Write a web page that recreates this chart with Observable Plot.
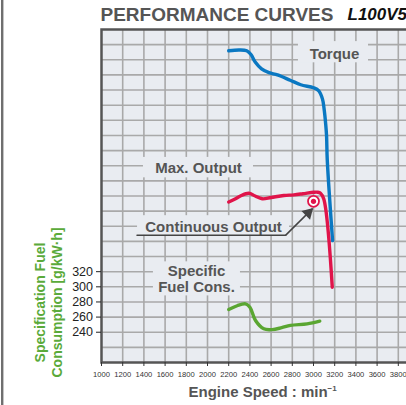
<!DOCTYPE html>
<html><head><meta charset="utf-8">
<script src="https://cdn.jsdelivr.net/npm/d3@7"></script>
<script src="https://cdn.jsdelivr.net/npm/@observablehq/plot@0.6"></script>
<style>
html,body{margin:0;padding:0;background:#fff;overflow:hidden;width:406px;height:405px;}
#wrap{position:relative;width:406px;height:405px;overflow:hidden;}
#edge{position:absolute;left:1px;top:0;width:2px;height:405px;background:#6f6f6f;}
#edge2{position:absolute;left:3px;top:0;width:1px;height:405px;background:#c4c4c4;}
#wrap svg{position:absolute;left:0;top:0;max-width:none !important;width:430px !important;height:405px !important;}
</style></head><body><div id="wrap"><div id="edge"></div><div id="edge2"></div></div>
<script>
// axis ticks
const rpmTicks = [1000,1200,1400,1600,1800,2000,2200,2400,2600,2800,3000,3200,3400,3600,3800];
const sfcTicks = [240,260,280,300,320];
const gridRpm = [1200,1400,1600,1800,2000,2200,2400,2600,2800,3000,3200,3400,3600,3800];
const gridLevels = [220,240,260,280,300,320,340,360,380,400,420,440,460,480,500,520,540,560,580,600,620];

// torque curve (rpm, chart level)
const torqueRpm   = [2200,2300,2370,2410,2450,2510,2580,2660,2780,2880,3000,3050,3085,3100,3115,3123,3130,3180];
const torqueLevel = [612, 613, 612, 607, 597, 588, 583, 580, 573, 567, 563, 559, 548, 535, 515, 500, 467, 361];

// max output curve
const outputRpm   = [2200,2260,2310,2389,2450,2516,2600,2720,2815,2900,3003,3040,3066,3097,3177];
const outputLevel = [412, 416, 420, 423.6,420, 416.3,418, 420.6,421.5,423, 425, 425, 423.6,416, 299.5];

// specific fuel consumption [g/kWh]
const sfcRpm   = [2200,2280,2358,2400,2453,2531,2610,2700,2783,2940,3059];
const sfcValue = [270, 275, 277.5,273, 255.5,244.5,243.5,246, 249, 251, 254.6];

// continuous output point
const contRpm = [3000];
const contLevel = [413];

// annotation labels
const labelText  = ["Torque","Max. Output","Continuous Output","Specific\nFuel Cons."];
const labelRpm   = [3198, 1915, 2057, 1896];
const labelLevel = [608, 457, 380, 310.6];
const boxRpm1    = [2858, 1396, 1340, 1490];
const boxRpm2    = [3519, 2434, 2774, 2311];
const boxLevel1  = [596, 444, 368, 288];
const boxLevel2  = [624, 471, 394, 333];

// leader line of "Continuous Output"
const leaderRpm   = [1335, 2736, 2988];
const leaderLevel = [368, 368, 403];

const toRows = (xs, ys) => xs.map((x, i) => ({x, y: ys[i]}));
const torque = toRows(torqueRpm, torqueLevel);
const output = toRows(outputRpm, outputLevel);
const sfc = toRows(sfcRpm, sfcValue);
const cont = toRows(contRpm, contLevel);
const labels = labelText.map((t, i) => ({t, x: labelRpm[i], y: labelLevel[i]}));
const boxes = labelText.map((t, i) => ({x1: boxRpm1[i], x2: boxRpm2[i], y1: boxLevel1[i], y2: boxLevel2[i]}));
const leader = toRows(leaderRpm, leaderLevel);
const underline = leader.slice(0, 2);
const arrowSeg = [{x1: leader[1].x, y1: leader[1].y, x2: leader[2].x, y2: leader[2].y}];

const BG = "#e9ecf1";
const GRID = "#a9a9a9";
const FONT = "'Liberation Sans', Arial, Helvetica, sans-serif";

const plot = Plot.plot({
  width: 430, height: 405,
  marginLeft: 101, marginRight: 11, marginTop: 29, marginBottom: 43,
  x: {domain: [1000, 4000]},
  y: {domain: [200, 640]},
  style: {fontFamily: FONT, background: "transparent", overflow: "visible"},
  marks: [
    Plot.frame({fill: BG}),
    Plot.ruleX(gridRpm, {stroke: GRID, strokeWidth: 1.6}),
    Plot.ruleY(gridLevels, {stroke: GRID, strokeWidth: 1.6}),
    Plot.rect(boxes, {x1: "x1", x2: "x2", y1: "y1", y2: "y2", fill: BG}),
    Plot.frame({stroke: "#555", strokeWidth: 2.5}),
    Plot.axisX(rpmTicks, {tickSize: 4, tickPadding: 5.5, fontSize: 7.6, color: "#333", label: null, tickFormat: d => String(d)}),
    Plot.axisY(sfcTicks, {tickSize: 5, tickPadding: 3.5, fontSize: 12.5, color: "#222", label: null}),
    // annotations
    Plot.text(labels, {x: "x", y: "y", text: "t", fontSize: 15, fontWeight: "bold", fill: "#555", lineHeight: 1.11}),
    Plot.line(underline, {x: "x", y: "y", stroke: "#444", strokeWidth: 1.5}),
    Plot.link(arrowSeg, {x1: "x1", y1: "y1", x2: "x2", y2: "y2", stroke: "#444", strokeWidth: 1.5}),
    Plot.dot([leader[2]], {x: "x", y: "y", symbol: "triangle", r: 4.5, fill: "#444", rotate: 45, dx: -4, dy: 4}),
    // curves
    Plot.line(torque, {x: "x", y: "y", stroke: "#0a78c2", strokeWidth: 3.4, curve: "catmull-rom"}),
    Plot.line(output, {x: "x", y: "y", stroke: "#e0144a", strokeWidth: 3.4, curve: "catmull-rom"}),
    Plot.line(sfc, {x: "x", y: "y", stroke: "#5aa632", strokeWidth: 3.4, curve: "catmull-rom"}),
    Plot.dot(cont, {x: "x", y: "y", r: 5.5, fill: "#fff", stroke: "#e0144a", strokeWidth: 1.8}),
    Plot.dot(cont, {x: "x", y: "y", r: 2.6, fill: "#e0144a"}),
    // titles
    Plot.text(["PERFORMANCE CURVES"], {text: d => d, frameAnchor: "top-left", textAnchor: "start", lineAnchor: "middle", dx: -1, dy: -14.5, fontSize: 19, fontWeight: "bold", fill: "#555"}),
    Plot.text(["L100V5"], {text: d => d, frameAnchor: "top-left", textAnchor: "start", lineAnchor: "middle", dx: 246, dy: -14.5, fontSize: 17, fontWeight: "bold", fontStyle: "italic", fill: "#111"}),
    Plot.text(["Engine Speed : min"], {text: d => d, frameAnchor: "bottom-left", textAnchor: "start", lineAnchor: "middle", dx: 87, dy: 29.9, fontSize: 15, fontWeight: "bold", fill: "#555"}),
    Plot.text(["\u22121"], {text: d => d, frameAnchor: "bottom-left", textAnchor: "start", lineAnchor: "middle", dx: 226, dy: 26, fontSize: 8, fontWeight: "bold", fill: "#555"}),
    Plot.text(["Specification Fuel\nConsumption [g/kW·h]"], {text: d => d, frameAnchor: "left", textAnchor: "middle", lineAnchor: "middle", rotate: -90, dx: -53.5, dy: 106.5, fontSize: 14, fontWeight: "bold", fill: "#5aaa3a", lineHeight: 1.21})
  ]
});
document.getElementById("wrap").appendChild(plot);
</script>
</body></html>
